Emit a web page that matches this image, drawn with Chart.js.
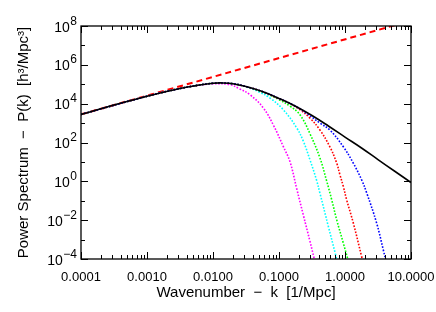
<!DOCTYPE html>
<html>
<head>
<meta charset="utf-8">
<script src="https://cdn.jsdelivr.net/npm/chart.js@4.4.1/dist/chart.umd.min.js"></script>
<style>
  html, body { margin: 0; padding: 0; background: #fff; }
  canvas { display: block; }
</style>
</head>
<body>
<canvas id="spectrum" width="436" height="312"></canvas>
<script>
// ======================
// DATA
// ======================
const kLinear = [1e-4, 3.16e-4, 1e-3, 3.16e-3, 5.6e-3, 1e-2, 1.4e-2, 2e-2, 3.16e-2, 5.6e-2, 0.1, 0.178, 0.316, 0.56, 1, 1.78, 3.16, 5.6, 10];
const pLinear = [2.8e3, 8.5e3, 2.4e4, 6.0e4, 8.5e4, 1.13e5, 1.17e5, 1.07e5, 7.6e4, 4.2e4, 1.86e4, 7.4e3, 2.45e3, 710, 190, 52, 13.2, 3.4, 0.87];

const kPrimordial = [1e-4, 10];
const pPrimordial = [2.8e3, 1.9e8];

const kBlue = [1e-4, 1e-3, 3.16e-3, 1e-2, 2e-2, 3.16e-2, 5.6e-2, 0.1, 0.178, 0.25, 0.417, 0.59, 0.944, 1.34, 1.79, 2.14, 3.02, 3.8, 4.17];
const pBlue = [2.8e3, 2.4e4, 6.0e4, 1.13e5, 1.07e5, 7.6e4, 4.2e4, 1.86e4, 7.4e3, 3.6e3, 1.0e3, 440, 60, 8.5, 1.17, 0.245, 6.9e-3, 3e-4, 8e-5];

const kRed = [1e-4, 1e-3, 3.16e-3, 1e-2, 2e-2, 3.16e-2, 5.6e-2, 0.1, 0.148, 0.209, 0.295, 0.417, 0.59, 0.75, 0.84, 0.944, 1.06, 1.34, 1.79, 1.95];
const pRed = [2.8e3, 2.4e4, 6.0e4, 1.13e5, 1.07e5, 7.6e4, 4.2e4, 1.8e4, 1.0e4, 4.8e3, 1.8e3, 440, 60, 8.5, 2.1, 0.54, 0.11, 6.9e-3, 1.3e-4, 4e-5];

const kGreen = [1e-4, 1e-3, 3.16e-3, 1e-2, 2e-2, 3.16e-2, 6.3e-2, 0.1, 0.147, 0.209, 0.295, 0.417, 0.525, 0.63, 0.75, 0.944, 1.1, 1.17];
const pGreen = [2.8e3, 2.4e4, 6.0e4, 1.13e5, 1.07e5, 7.6e4, 3.4e4, 1.6e4, 7.4e3, 2.6e3, 280, 16, 1.1, 0.11, 0.0102, 6.5e-4, 1e-4, 4e-5];

const kCyan = [1e-4, 1e-3, 3.16e-3, 1e-2, 2e-2, 3.16e-2, 5.0e-2, 7.3e-2, 0.116, 0.186, 0.234, 0.295, 0.37, 0.417, 0.56, 0.71, 0.79];
const pCyan = [2.8e3, 2.4e4, 6.0e4, 1.13e5, 1.07e5, 7.5e4, 4.0e4, 1.95e4, 4.9e3, 560, 115, 12.6, 1.17, 0.245, 4.7e-3, 2e-4, 4.5e-5];

const kMagenta = [1e-4, 1e-3, 3.16e-3, 5.6e-3, 1e-2, 1.82e-2, 2.5e-2, 3.63e-2, 5.8e-2, 8.2e-2, 0.116, 0.147, 0.186, 0.234, 0.295, 0.34, 0.363];
const pMagenta = [2.8e3, 2.4e4, 6.0e4, 8.4e4, 1.05e5, 9.5e4, 5.9e4, 2.9e4, 6.0e3, 800, 63, 10, 0.4, 0.018, 8e-4, 1.1e-4, 4e-5];

const xTickValues = [0.0001, 0.001, 0.01, 0.1, 1, 10];
const xTickLabels = ['0.0001', '0.0010', '0.0100', '0.1000', '1.0000', '10.0000'];
const yTickValues = [1e-4, 1e-2, 1, 1e2, 1e4, 1e6, 1e8];
const yTickExps = ['\u22124', '\u22122', '0', '2', '4', '6', '8'];
const yMinorValues = [1e-3, 1e-1, 1e1, 1e3, 1e5, 1e7];

const xTitle = 'Wavenumber  \u2212  k  [1/Mpc]';
const yTitle = 'Power Spectrum  \u2212  P(k)  [h\u00b3/Mpc\u00b3]';

function pts(ks, ps) {
    return ks.map((k, i) => ({ x: k, y: ps[i] }));
}

function dotted(label, ks, ps, color) {
    return {
        label,
        data: pts(ks, ps),
        borderColor: color,
        borderWidth: 1.6,
        borderDash: [1.6, 1.6],
        pointRadius: 0,
        tension: 0.4,
        fill: false
    };
}

// ======================
// AXES / FRAME
// ======================
const FONT = '"Liberation Sans", Arial, sans-serif';

const idlFrame = {
    id: 'idlFrame',
    afterDatasetsDraw(chart) {
        const { ctx, chartArea: a, scales: { x, y } } = chart;
        ctx.save();
        ctx.strokeStyle = '#000';
        ctx.lineWidth = 1.3;
        ctx.strokeRect(a.left, a.top, a.right - a.left, a.bottom - a.top);

        ctx.lineWidth = 1;
        ctx.beginPath();
        // x ticks, major + minor, bottom and top
        xTickValues.forEach((v, i) => {
            const px = Math.round(x.getPixelForValue(v)) + 0.5;
            ctx.moveTo(px, a.bottom); ctx.lineTo(px, a.bottom - 7);
            ctx.moveTo(px, a.top); ctx.lineTo(px, a.top + 7);
            if (i < xTickValues.length - 1) {
                for (let m = 2; m <= 9; m++) {
                    const q = Math.round(x.getPixelForValue(v * m)) + 0.5;
                    ctx.moveTo(q, a.bottom); ctx.lineTo(q, a.bottom - 4);
                    ctx.moveTo(q, a.top); ctx.lineTo(q, a.top + 4);
                }
            }
        });
        // y ticks, left and right
        yTickValues.forEach(v => {
            const py = Math.round(y.getPixelForValue(v)) + 0.5;
            ctx.moveTo(a.left, py); ctx.lineTo(a.left + 7, py);
            ctx.moveTo(a.right, py); ctx.lineTo(a.right - 7, py);
        });
        yMinorValues.forEach(v => {
            const py = Math.round(y.getPixelForValue(v)) + 0.5;
            ctx.moveTo(a.left, py); ctx.lineTo(a.left + 4, py);
            ctx.moveTo(a.right, py); ctx.lineTo(a.right - 4, py);
        });
        ctx.stroke();

        // labels
        ctx.fillStyle = '#000';
        ctx.font = '13px ' + FONT;
        ctx.textAlign = 'center';
        ctx.textBaseline = 'alphabetic';
        xTickValues.forEach((v, i) => {
            ctx.fillText(xTickLabels[i], x.getPixelForValue(v), a.bottom + 22);
        });

        ctx.textAlign = 'right';
        yTickValues.forEach((v, i) => {
            const py = y.getPixelForValue(v);
            ctx.font = '12px ' + FONT;
            const ew = ctx.measureText(yTickExps[i]).width;
            ctx.fillText(yTickExps[i], a.left - 4, py - 1.5);
            ctx.font = '14px ' + FONT;
            ctx.fillText('10', a.left - 4 - ew - 0.5, py + 5.5);
        });

        // titles
        ctx.font = '15px ' + FONT;
        ctx.textAlign = 'center';
        ctx.fillText(xTitle, (a.left + a.right) / 2, 297);

        ctx.translate(28, (a.top + a.bottom) / 2);
        ctx.rotate(-Math.PI / 2);
        ctx.fillText(yTitle, 0, 0);
        ctx.restore();
    }
};

new Chart(document.getElementById('spectrum'), {
    type: 'line',
    data: {
        datasets: [
            {
                label: 'linear',
                data: pts(kLinear, pLinear),
                borderColor: '#000',
                borderWidth: 1.6,
                pointRadius: 0,
                tension: 0.4,
                fill: false
            },
            dotted('blue', kBlue, pBlue, '#0000ff'),
            dotted('red', kRed, pRed, '#ff0000'),
            dotted('green', kGreen, pGreen, '#00ff00'),
            dotted('cyan', kCyan, pCyan, '#00ffff'),
            dotted('magenta', kMagenta, pMagenta, '#ff00ff'),
            {
                label: 'primordial',
                data: pts(kPrimordial, pPrimordial),
                borderColor: '#ff0000',
                borderWidth: 2,
                borderDash: [6, 4],
                pointRadius: 0,
                fill: false
            }
        ]
    },
    options: {
        responsive: false,
        animation: false,
        devicePixelRatio: 1,
        layout: { padding: { left: 0, top: 26, right: 25, bottom: 0 } },
        plugins: { legend: { display: false }, tooltip: { enabled: false } },
        scales: {
            x: {
                type: 'logarithmic',
                min: 1e-4,
                max: 10,
                grid: { display: false },
                border: { display: false },
                ticks: { display: false },
                afterFit: s => { s.height = 53; }
            },
            y: {
                type: 'logarithmic',
                min: 1e-4,
                max: 1e8,
                grid: { display: false },
                border: { display: false },
                ticks: { display: false },
                afterFit: s => { s.width = 81; }
            }
        }
    },
    plugins: [idlFrame]
});
</script>
</body>
</html>
